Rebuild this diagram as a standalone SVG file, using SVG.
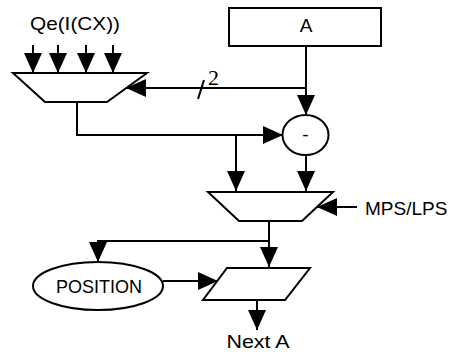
<svg xmlns="http://www.w3.org/2000/svg" width="453" height="356" viewBox="0 0 453 356">
  <style>
    .shape { fill: #fff; stroke: #000; stroke-width: 2; }
    .wire { fill: none; stroke: #000; stroke-width: 2; }
    .arrow { fill: none; stroke: #000; stroke-width: 2; marker-end: url(#head); }
    .label { font-family: "Liberation Sans", Arial, sans-serif; font-size: 19px; fill: #000; }
  </style>
  <defs>
    <marker id="head" viewBox="0 0 20 18" refX="20" refY="9" markerWidth="20" markerHeight="18" markerUnits="userSpaceOnUse" orient="auto">
      <path d="M0,0 L20,9 L0,18 Z" fill="#000"/>
    </marker>
  </defs>
  <rect width="453" height="356" fill="#fff"/>

  <!-- connectors -->
  <g id="connectors">
    <!-- four probability inputs into the selector -->
    <line class="arrow" x1="33" y1="45" x2="33" y2="73"/>
    <line class="arrow" x1="58" y1="45" x2="58" y2="73"/>
    <line class="arrow" x1="86" y1="45" x2="86" y2="73"/>
    <line class="arrow" x1="113" y1="45" x2="113" y2="73"/>
    <!-- A down to subtractor -->
    <line class="arrow" x1="306" y1="46" x2="306" y2="115"/>
    <!-- A/2 tap into the selector -->
    <line class="arrow" x1="306" y1="88" x2="126" y2="88"/>
    <line class="wire" x1="198" y1="99" x2="204" y2="80"/>
    <text x="208" y="85" style="font-family: 'Liberation Serif', 'Times New Roman', serif; font-size: 22px;">2</text>
    <!-- selector output to subtractor -->
    <polyline class="arrow" points="77,102 77,135 283,135"/>
    <line class="arrow" x1="236" y1="135" x2="236" y2="191"/>
    <line class="arrow" x1="306" y1="155" x2="306" y2="191"/>
    <!-- MPS/LPS select -->
    <line class="arrow" x1="357" y1="207" x2="317" y2="207"/>
    <!-- mux output -->
    <line class="arrow" x1="269" y1="221" x2="269" y2="267"/>
    <polyline class="arrow" points="269,241 98,241 98,262"/>
    <line class="arrow" x1="163" y1="281" x2="218" y2="281"/>
    <line class="arrow" x1="257" y1="300" x2="257" y2="330"/>
  </g>

  <g id="qe-label">
    <text class="label" x="75" y="30" text-anchor="middle" textLength="90" lengthAdjust="spacingAndGlyphs">Qe(I(CX))</text>
  </g>

  <g id="qe-select">
    <polygon class="shape" points="13,73 147,73 107,102 45,102"/>
  </g>

  <g id="reg-a">
    <rect class="shape" x="229" y="8" width="152" height="38"/>
    <text class="label" x="306" y="32" text-anchor="middle">A</text>
  </g>

  <g id="subtract">
    <ellipse class="shape" cx="305.5" cy="135" rx="23" ry="20"/>
    <text class="label" x="305.5" y="141" text-anchor="middle">-</text>
  </g>

  <g id="mux">
    <polygon class="shape" points="208,192 333,192 302,221 239,221"/>
  </g>

  <g id="mps-lps">
    <text class="label" x="365" y="215">MPS/LPS</text>
  </g>

  <g id="position">
    <ellipse class="shape" cx="98" cy="286" rx="65" ry="24"/>
    <text class="label" x="99" y="293" text-anchor="middle" style="font-size: 18px;">POSITION</text>
  </g>

  <g id="normalize">
    <polygon class="shape" points="227,268 310,268 285,300 203,300"/>
  </g>

  <g id="next-a">
    <text class="label" x="258" y="348" text-anchor="middle" textLength="63" lengthAdjust="spacingAndGlyphs">Next A</text>
  </g>
</svg>
